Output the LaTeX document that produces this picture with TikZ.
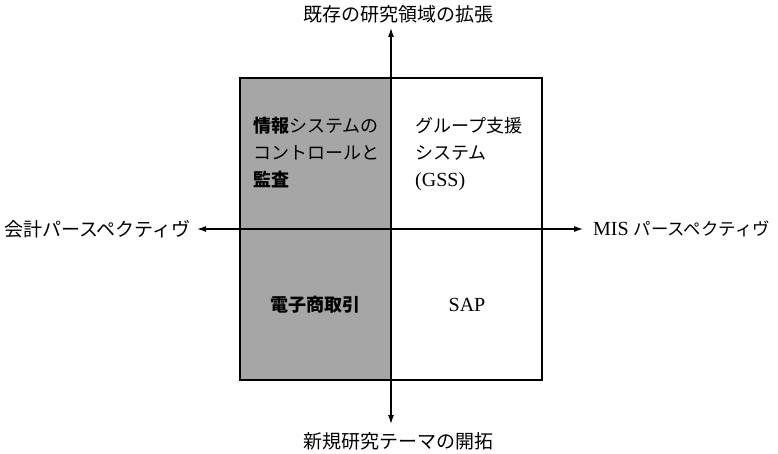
\documentclass[tikz,border=0pt]{standalone}
\usepackage{fontspec}
\setmainfont{Liberation Serif}
\newfontfamily\jp{Noto Sans CJK JP}
\usetikzlibrary{arrows.meta}
\tikzset{
  axis/.style={line width=1.2pt, {Latex[length=9pt,width=6pt]}-{Latex[length=9pt,width=6pt]}},
  lab/.style={inner sep=0pt, font=\fontsize{19}{22}\selectfont},
  cell/.style={inner sep=0pt, align=left, font=\fontsize{18}{27}\selectfont},
}
\begin{document}
\begin{tikzpicture}[x=1pt,y=-1pt]
\useasboundingbox (0,0) rectangle (778,454);
\fill[white] (0,0) rectangle (778,454);
\fill[black!35] (240,78) rectangle (391,380);
\draw[line width=1.4pt] (240,78) rectangle (542,380);
\coordinate (N) at (391,28);
\coordinate (S) at (391,424);
\coordinate (W) at (197,229);
\coordinate (E) at (583,229);
\draw[axis] (S) -- (N);
\draw[axis] (W) -- (E);
\node[lab] (top) at (398,14) {\jp 既存の研究領域の拡張};
\node[lab] (bot) at (398,441) {\jp 新規研究テーマの開拓};
\node[lab, anchor=west] (left) at (4,229) {\jp 会計パースペクティヴ};
\node[lab, anchor=west] (right) at (593,229) {{\fontsize{20}{22}\selectfont MIS}\hspace{5pt}{\fontsize{17.4}{22}\selectfont\jp パースペクティヴ}};
\node[cell, anchor=north west] (tl) at (253,117) {\jp{\bfseries 情報}システムの\\ \jp コントロールと\\ \jp\bfseries 監査};
\node[cell, anchor=north west] (tr) at (415,117) {\jp グループ支援\\ \jp システム\\ {\fontsize{20}{27}\selectfont (GSS)}};
\node[cell, font=\fontsize{18}{22}\selectfont\jp\bfseries] (bl) at (315,305) {電子商取引};
\node[cell, font=\fontsize{20}{22}\selectfont] (br) at (467,305) {SAP};
\end{tikzpicture}
\end{document}
